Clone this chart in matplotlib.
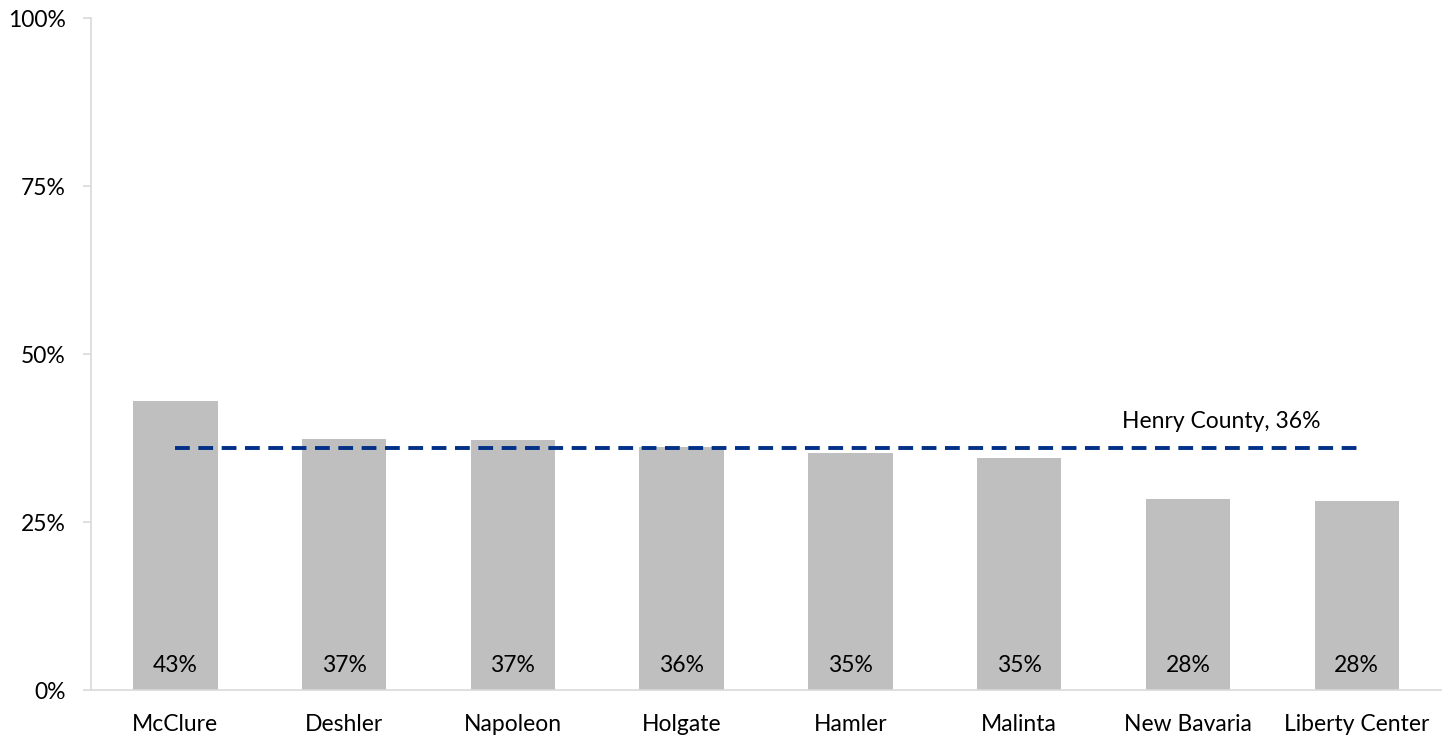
import numpy as np
import matplotlib
matplotlib.use("Agg")
import matplotlib.pyplot as plt

plt.rcParams['font.family'] = ['Lato', 'DejaVu Sans']

towns = ["McClure", "Deshler", "Napoleon", "Holgate", "Hamler", "Malinta", "New Bavaria", "Liberty Center"]
values = [43.0, 37.3, 37.2, 36.1, 35.2, 34.5, 28.4, 28.2]
labels = ["43%", "37%", "37%", "36%", "35%", "35%", "28%", "28%"]
county_value = 36.0
county_label = "Henry County, 36%"
yticks = [0, 25, 50, 75, 100]

fs = 16.5

fig = plt.figure(figsize=(14.47, 7.41), dpi=100)
ax = fig.add_axes([0.0629, 0.0688, 0.9330, 0.9069])

x = np.arange(len(towns))
ax.bar(x, values, width=0.5, color="#BFBFBF", zorder=2)

for xi, lab in zip(x, labels):
    ax.annotate(lab, (xi, 0), xytext=(0, 18), textcoords="offset points",
                ha="center", va="center", fontsize=fs, color="#000000")

# county reference line
ax.plot([x[0], x[-1]], [county_value, county_value], color="#003087",
        linewidth=2.8, linestyle=(0, (3.8, 2.2)), zorder=3)
ax.annotate(county_label, (x[-2] + 0.2, county_value), xytext=(0, 19.5),
            textcoords="offset points", ha="center", va="center", fontsize=fs)

ax.set_xlim(-0.5, len(towns) - 0.5)
ax.set_ylim(0, 100)
ax.set_yticks(yticks)
ax.set_yticklabels([f"{t}%" for t in yticks], fontsize=fs)
ax.set_xticks(x)
ax.set_xticklabels(towns, fontsize=fs)

for s in ["top", "right"]:
    ax.spines[s].set_visible(False)
for s in ["left", "bottom"]:
    ax.spines[s].set_color("#D9D9D9")
    ax.spines[s].set_linewidth(1.2)
ax.tick_params(axis="y", length=6, color="#D9D9D9", width=1.2, pad=12)
ax.tick_params(axis="x", length=0, pad=17.5)

fig.savefig("out.png", dpi=100)
